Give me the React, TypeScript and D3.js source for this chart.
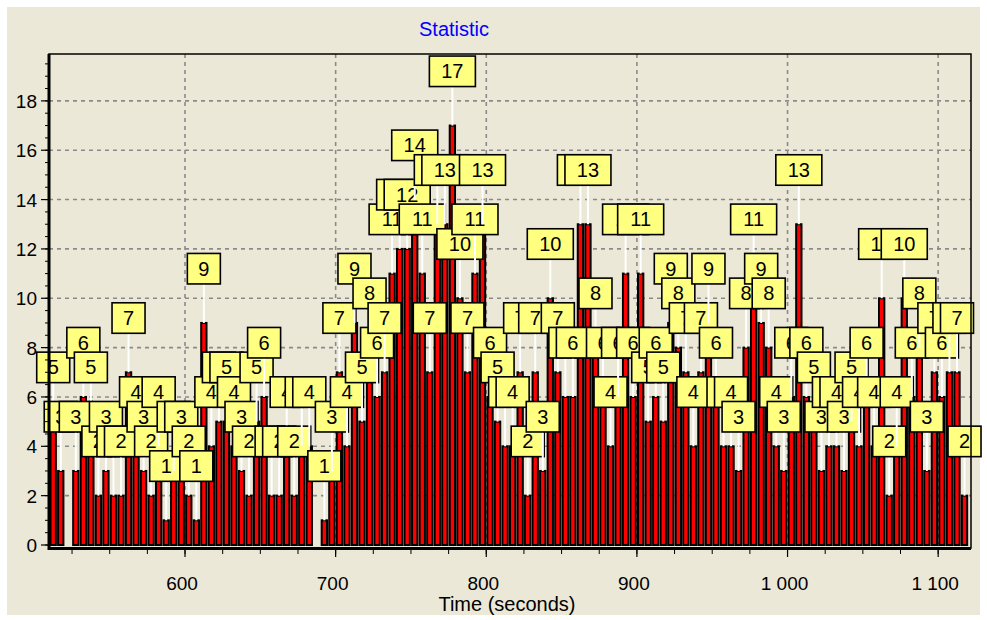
import React from 'react';
import * as d3 from 'd3';

// bin centres (seconds)
const binTimes = [
  512.5, 517.5, 522.5, 527.5, 532.5, 537.5, 542.5, 547.5, 552.5, 557.5,
  562.5, 567.5, 572.5, 577.5, 582.5, 587.5, 592.5, 597.5, 602.5, 607.5,
  612.5, 617.5, 622.5, 627.5, 632.5, 637.5, 642.5, 647.5, 652.5, 657.5,
  662.5, 667.5, 672.5, 677.5, 682.5, 687.5, 692.5, 697.5, 702.5, 707.5,
  712.5, 717.5, 722.5, 727.5, 732.5, 737.5, 742.5, 747.5, 752.5, 757.5,
  762.5, 767.5, 772.5, 777.5, 782.5, 787.5, 792.5, 797.5, 802.5, 807.5,
  812.5, 817.5, 822.5, 827.5, 832.5, 837.5, 842.5, 847.5, 852.5, 857.5,
  862.5, 867.5, 872.5, 877.5, 882.5, 887.5, 892.5, 897.5, 902.5, 907.5,
  912.5, 917.5, 922.5, 927.5, 932.5, 937.5, 942.5, 947.5, 952.5, 957.5,
  962.5, 967.5, 972.5, 977.5, 982.5, 987.5, 992.5, 997.5, 1002.5, 1007.5,
  1012.5, 1017.5, 1022.5, 1027.5, 1032.5, 1037.5, 1042.5, 1047.5, 1052.5, 1057.5,
  1062.5, 1067.5, 1072.5, 1077.5, 1082.5, 1087.5, 1092.5, 1097.5, 1102.5, 1107.5,
  1112.5, 1117.5,
];

const counts = [
  5, 3, 0, 3, 6, 5, 2, 3, 2, 2,
  7, 4, 3, 2, 4, 1, 3, 3, 2, 1,
  9, 4, 5, 5, 4, 3, 2, 5, 6, 2,
  2, 4, 2, 4, 4, 0, 1, 3, 7, 4,
  9, 5, 8, 6, 7, 11, 12, 12, 14, 11,
  7, 13, 13, 17, 10, 7, 11, 13, 6, 5,
  4, 4, 7, 2, 7, 3, 10, 7, 6, 6,
  13, 13, 8, 6, 4, 6, 11, 6, 11, 5,
  6, 5, 9, 8, 7, 4, 7, 9, 6, 4,
  4, 3, 8, 11, 9, 8, 4, 3, 6, 13,
  6, 5, 3, 4, 4, 3, 5, 4, 6, 4,
  10, 2, 4, 10, 6, 8, 3, 7, 6, 7,
  7, 2,
];

const yTicks = [0, 2, 4, 6, 8, 10, 12, 14, 16, 18];
const xTicks = [600, 700, 800, 900, 1000, 1100];
const xTickLabels = ['600', '700', '800', '900', '1 000', '1 100'];
const chartTitle = 'Statistic';
const xAxisTitle = 'Time (seconds)';

const W = 987;
const H = 620;
const PL = 49;
const PR = 971;
const PT = 54;
const PB = 545;
const FONT = '"Liberation Sans", Arial, sans-serif';

export default function App() {
  const x = d3.scaleLinear().domain([509.7, 1121.8]).range([PL, PR]);
  const y = d3.scaleLinear().domain([0, 19.9]).range([PB, PT]);
  const binW = x(5) - x(0);
  const barW = binW - 2.2;

  const minorY = d3.range(0, 19.9, 0.5);
  const minorX = d3.range(525, 1121, 25);

  return (
    <svg width={W} height={H} style={{ position: 'absolute', left: 0, top: 0 }}
      xmlns="http://www.w3.org/2000/svg">
      <rect x={0} y={0} width={W} height={H} fill="#ffffff" />
      <rect x={7} y={7} width={W - 14} height={H - 12} fill="#ebe8d8" />
      <text x={454} y={36} textAnchor="middle" fontFamily={FONT} fontSize={20} fill="#0000ff">
        {chartTitle}
      </text>

      {/* grid */}
      {yTicks.filter(t => t > 0).map(t => (
        <line key={'gy' + t} x1={PL} x2={PR} y1={y(t)} y2={y(t)}
          stroke="#8a8a8a" strokeWidth={1.6} strokeDasharray="4 4" />
      ))}
      {xTicks.map(t => (
        <line key={'gx' + t} x1={x(t)} x2={x(t)} y1={PT} y2={PB + 2}
          stroke="#8a8a8a" strokeWidth={1.6} strokeDasharray="4 4" />
      ))}

      {/* bars */}
      {counts.map((c, i) => c > 0 ? (
        <rect key={'b' + i} x={x(binTimes[i]) - barW / 2} y={y(c)} width={barW}
          height={y(0) - y(c)} fill="#ff0000" stroke="#000000" strokeWidth={2} />
      ) : null)}

      {/* marks */}
      {counts.map((c, i) => {
        if (c <= 0) return null;
        const cx = x(binTimes[i]);
        const top = y(c);
        const label = String(c);
        const bw = label.length > 1 ? 46 : 33;
        const bh = 30.5;
        const by = top - 39 - bh;
        return (
          <g key={'m' + i}>
            <line x1={cx} x2={cx} y1={top} y2={top - 39} stroke="#ffffff" strokeWidth={2} />
            <rect x={cx - bw / 2} y={by} width={bw} height={bh} fill="#ffff80"
              stroke="#000000" strokeWidth={1.6} />
            <text x={cx} y={by + bh / 2 + 7} textAnchor="middle" fontFamily={FONT}
              fontSize={20} fill="#000000">{label}</text>
          </g>
        );
      })}

      {/* frame */}
      <rect x={PL} y={PT} width={PR - PL} height={PB + 3 - PT} fill="none" stroke="#000" strokeWidth={1.5} />
      <line x1={PL} x2={PL} y1={PT} y2={PB + 5} stroke="#000" strokeWidth={3} />
      <line x1={PL - 1} x2={PR} y1={PB + 3.5} y2={PB + 3.5} stroke="#000" strokeWidth={3} />

      {/* y axis ticks */}
      {minorY.map(t => (
        <line key={'my' + t} x1={PL - 4} x2={PL} y1={y(t)} y2={y(t)} stroke="#000" strokeWidth={1} />
      ))}
      {yTicks.map(t => (
        <g key={'ty' + t}>
          <line x1={PL - 8} x2={PL} y1={y(t)} y2={y(t)} stroke="#000" strokeWidth={1.2} />
          <text x={PL - 12} y={y(t) + 7} textAnchor="end" fontFamily={FONT} fontSize={19} fill="#000">{t}</text>
        </g>
      ))}

      {/* x axis ticks */}
      {minorX.map(t => (
        <line key={'mx' + t} x1={x(t)} x2={x(t)} y1={PB + 5} y2={PB + 9} stroke="#000" strokeWidth={1} />
      ))}
      {xTicks.map((t, i) => (
        <g key={'tx' + t}>
          <line x1={x(t)} x2={x(t)} y1={PB + 5} y2={PB + 12} stroke="#000" strokeWidth={1.2} />
          <text x={x(t) - 3} y={590} textAnchor="middle" fontFamily={FONT} fontSize={19} fill="#000">{xTickLabels[i]}</text>
        </g>
      ))}
      <text x={507} y={611} textAnchor="middle" fontFamily={FONT} fontSize={20} fill="#000">{xAxisTitle}</text>
    </svg>
  );
}
